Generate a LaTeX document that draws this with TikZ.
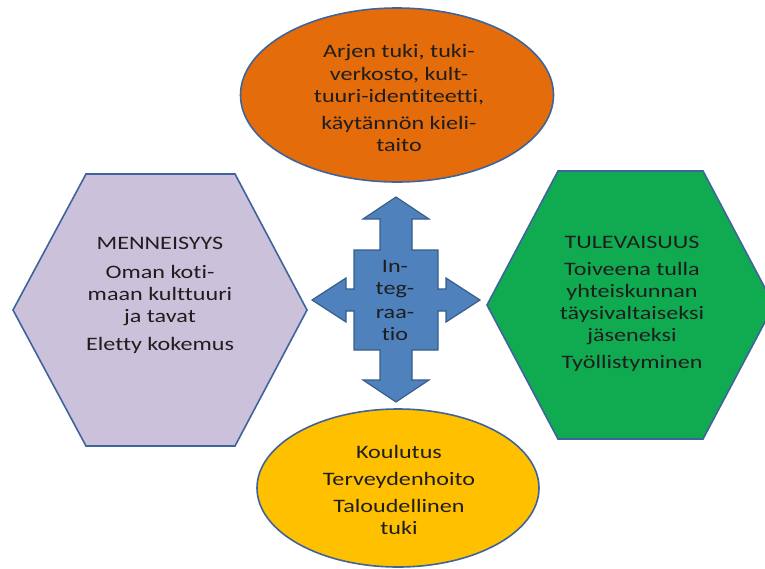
\documentclass[tikz,border=0pt]{standalone}
\usepackage{fontspec}
\setmainfont[FakeStretch=1.27,RawFeature={-liga;-clig;-calt;-dlig}]{Carlito}
\usetikzlibrary{shapes}

\definecolor{edgeblue}{RGB}{62,100,155}
\definecolor{arjenorange}{RGB}{228,108,10}
\definecolor{pastlilac}{RGB}{204,193,218}
\definecolor{futuregreen}{RGB}{16,170,80}
\definecolor{careyellow}{RGB}{255,192,0}
\definecolor{crossblue}{RGB}{79,129,189}
\definecolor{crossedge}{RGB}{56,93,138}
\definecolor{inktext}{RGB}{30,30,30}

\begin{document}
\begin{tikzpicture}[x=1pt,y=-1pt,
oval/.style =
  {ellipse,
   draw=edgeblue, line width=1.6pt,
   inner sep=0pt},
hexa/.style =
  {draw=edgeblue, line width=1.6pt, line join=miter},
cross arrow/.style={draw=crossedge, line width=1.2pt, fill=crossblue},
label/.style =
  {align=center, text=inktext, inner sep=0pt,
   font=\fontsize{19}{22}\selectfont}
]
\useasboundingbox (0,0) rectangle (765,568);
%Shapes
\node[oval, fill=arjenorange, minimum width=313pt, minimum height=174pt] (arjen) at (397,95) {};
\node[oval, fill=careyellow, minimum width=282pt, minimum height=158pt] (palvelut) at (398,488) {};
\coordinate (past) at (160,310);
\draw[hexa, fill=pastlilac] (past) ++(-147,0) -- ++(73,-136) -- ++(149,0) -- ++(72,136)
  -- ++(-72,136) -- ++(-149,0) -- cycle;
\coordinate (future) at (630,305);
\draw[hexa, fill=futuregreen] (future) ++(-143,0) -- ++(71,-134) -- ++(145,0) -- ++(71,134)
  -- ++(-71,134) -- ++(-145,0) -- cycle;
\coordinate (integ) at (396,300);
\draw[cross arrow, shift={(integ)}] (0,-103) -- (33,-81) -- (16,-81) -- (16,-50) -- (42,-50)
  -- (42,-11) -- (50,-11) -- (50,-22) -- (84,0) -- (50,22) -- (50,11) -- (42,11)
  -- (42,50) -- (16,50) -- (16,80) -- (33,80) -- (0,102) -- (-33,80) -- (-16,80)
  -- (-16,50) -- (-42,50) -- (-42,11) -- (-50,11) -- (-50,22) -- (-84,0) -- (-50,-22)
  -- (-50,-11) -- (-42,-11) -- (-42,-50) -- (-16,-50) -- (-16,-81) -- (-33,-81) -- cycle;
%Texts
\node[label] (arjentext) at (399,98) {Arjen tuki, tuki-\\[1pt] verkosto, kult-\\ tuuri-identiteetti,\\[5pt] käytännön kieli-\\ taito};
\node[label] (pasttext) at (160,295) {MENNEISYYS\\[7pt] Oman koti-\\ maan kulttuuri\\ ja tavat\\[6pt] Eletty kokemus};
\node[label] (futuretext) at (632,304) {TULEVAISUUS\\[5pt] Toiveena tulla\\ yhteiskunnan\\ täysivaltaiseksi\\ jäseneksi\\[5pt] Työllistyminen};
\node[label] (integtext) at (395,300) {In-\\ teg-\\[2pt] raa-\\ tio};
\node[label] (palvtext) at (399,490) {Koulutus\\[5pt] Terveydenhoito\\[5pt] Taloudellinen\\ tuki};
\end{tikzpicture}
\end{document}
